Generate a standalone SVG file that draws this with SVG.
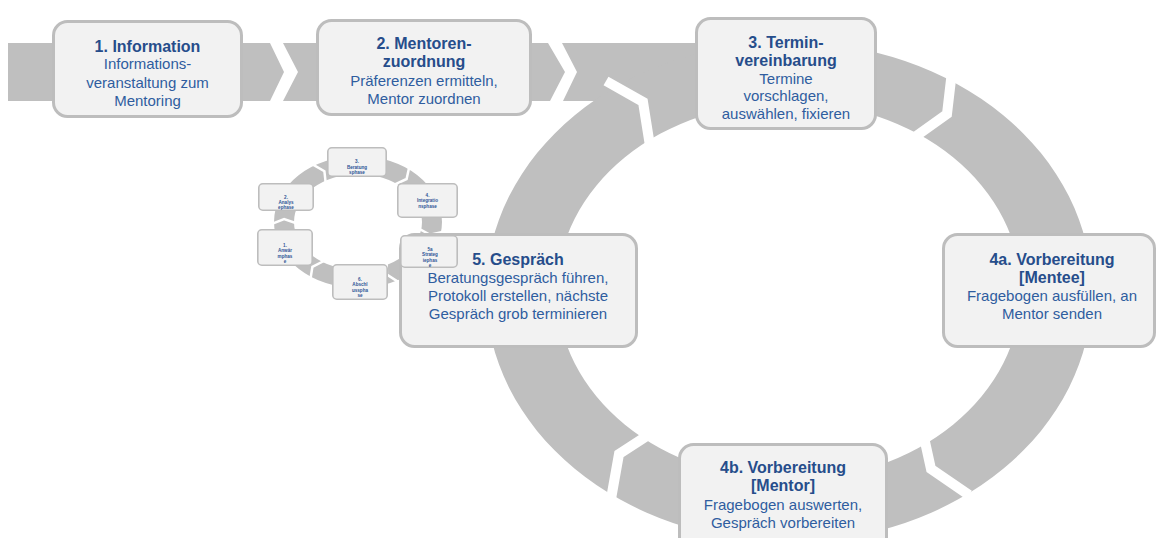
<svg xmlns="http://www.w3.org/2000/svg" width="1156" height="538" viewBox="0 0 1156 538">
<style>
.band{fill:#bfbfbf}
.gap{fill:none;stroke:#ffffff;stroke-width:10;stroke-linejoin:miter;stroke-linecap:butt}
.sgap{fill:none;stroke:#ffffff;stroke-width:2.5;stroke-linejoin:miter}
.box{fill:#f2f2f2;stroke:#bdbdbd;stroke-width:3}
.sbox{fill:#f2f2f2;stroke:#bdbdbd;stroke-width:1.6}
.t{font-family:"Liberation Sans",Arial,sans-serif;font-size:16px;font-weight:bold;fill:#264d8b;text-anchor:middle}
.b{font-family:"Liberation Sans",Arial,sans-serif;font-size:15px;fill:#2f5d9f;text-anchor:middle}
.s{font-family:"Liberation Sans",Arial,sans-serif;font-size:4.6px;font-weight:bold;fill:#2e5596;text-anchor:middle}
</style>
<rect width="1156" height="538" fill="#ffffff"/>
<g id="connectors">
  <rect class="band" x="8" y="43" width="752" height="58"/>
  <polygon fill="#ffffff" points="270,43 283,43 298,72 283,101 270,101 284,72"/>
  <polygon fill="#ffffff" points="548,43 562,43 577,72 563,101 550,101 565,72"/>
  <path class="band" fill-rule="evenodd" d="M486,292 A303,250 0 1 0 1092,292 A303,250 0 1 0 486,292 Z M557,291 A232,189 0 1 0 1021,291 A232,189 0 1 0 557,291 Z"/>
  <polyline class="gap" points="606,81 643,102 650,146"/>
  <polyline class="gap" points="952,71 947,114 912,139"/>
  <polyline class="gap" points="922,428 931,469 969,495"/>
  <polyline class="gap" points="611,499 619,454 656,430"/>
  <path class="band" fill-rule="evenodd" d="M274,222 A84,66 0 1 0 442,222 A84,66 0 1 0 274,222 Z M294,222 A64,48 0 1 0 422,222 A64,48 0 1 0 294,222 Z"/>
  <polyline class="sgap" points="308.6,162.2 324.4,171.2 325.9,184.9"/>
  <polyline class="sgap" points="410,163.6 406.6,179 391.8,185.8"/>
  <polyline class="sgap" points="448,230.7 430.1,234.8 416.5,227.4"/>
  <polyline class="sgap" points="402,284.4 386.9,274.5 386.6,260.7"/>
  <polyline class="sgap" points="309.9,282.5 312.4,266.9 326.8,259.5"/>
  <polyline class="sgap" points="267.4,225.7 284.1,219 299.2,224.3"/>
</g>
<g id="node1">
  <rect class="box" x="53.5" y="21.5" width="188" height="95" rx="14"/>
  <text class="t" x="147.5" y="52">1. Information</text>
  <text class="b" x="147.5" y="69">Informations-</text>
  <text class="b" x="147.5" y="87.5">veranstaltung zum</text>
  <text class="b" x="147.5" y="106">Mentoring</text>
</g>
<g id="node2">
  <rect class="box" x="317.5" y="20.5" width="213" height="94" rx="14"/>
  <text class="t" x="424" y="49">2. Mentoren-</text>
  <text class="t" x="424" y="67">zuordnung</text>
  <text class="b" x="424" y="86">Präferenzen ermitteln,</text>
  <text class="b" x="424" y="103.5">Mentor zuordnen</text>
</g>
<g id="node3">
  <rect class="box" x="696.5" y="18.5" width="179" height="110" rx="14"/>
  <text class="t" x="786" y="48">3. Termin-</text>
  <text class="t" x="786" y="66">vereinbarung</text>
  <text class="b" x="786" y="83.5">Termine</text>
  <text class="b" x="786" y="101">vorschlagen,</text>
  <text class="b" x="786" y="119">auswählen, fixieren</text>
</g>
<g id="node4a">
  <rect class="box" x="943.5" y="234.5" width="211" height="112" rx="14"/>
  <text class="t" x="1052" y="265">4a. Vorbereitung</text>
  <text class="t" x="1052" y="283">[Mentee]</text>
  <text class="b" x="1052" y="301">Fragebogen ausfüllen, an</text>
  <text class="b" x="1052" y="319">Mentor senden</text>
</g>
<g id="node4b">
  <rect class="box" x="679.5" y="444.5" width="207" height="110" rx="14"/>
  <text class="t" x="783" y="473">4b. Vorbereitung</text>
  <text class="t" x="783" y="491">[Mentor]</text>
  <text class="b" x="783" y="510">Fragebogen auswerten,</text>
  <text class="b" x="783" y="528">Gespräch vorbereiten</text>
</g>
<g id="node5">
  <rect class="box" x="400.5" y="234.5" width="236" height="112" rx="14"/>
  <text class="t" x="518" y="265">5. Gespräch</text>
  <text class="b" x="518" y="283">Beratungsgespräch führen,</text>
  <text class="b" x="518" y="301">Protokoll erstellen, nächste</text>
  <text class="b" x="518" y="319">Gespräch grob terminieren</text>
</g>
<g id="sub3">
  <rect class="sbox" x="327.8" y="147.8" width="58.4" height="28.4" rx="4"/>
  <text class="s" x="357" y="163.3">3.</text>
  <text class="s" x="357" y="168.5">Beratung</text>
  <text class="s" x="357" y="174">sphase</text>
</g>
<g id="sub2">
  <rect class="sbox" x="258.8" y="183.8" width="54.4" height="26.4" rx="4"/>
  <text class="s" x="286" y="198.6">2.</text>
  <text class="s" x="286" y="203.8">Analys</text>
  <text class="s" x="286" y="209.2">ephase</text>
</g>
<g id="sub4">
  <rect class="sbox" x="397.8" y="183.8" width="59.4" height="33.4" rx="4"/>
  <text class="s" x="427.5" y="196.5">4.</text>
  <text class="s" x="427.5" y="202.3">Integratio</text>
  <text class="s" x="427.5" y="208">nsphase</text>
</g>
<g id="sub1">
  <rect class="sbox" x="257.8" y="229.8" width="54.4" height="35.4" rx="4"/>
  <text class="s" x="285" y="246.5">1.</text>
  <text class="s" x="285" y="252">Anwär</text>
  <text class="s" x="285" y="257.5">mphas</text>
  <text class="s" x="285" y="263">e</text>
</g>
<g id="sub6">
  <rect class="sbox" x="332.8" y="264.8" width="54.4" height="34.4" rx="4"/>
  <text class="s" x="360" y="281">6.</text>
  <text class="s" x="360" y="286.3">Abschl</text>
  <text class="s" x="360" y="291.6">usspha</text>
  <text class="s" x="360" y="297">se</text>
</g>
<g id="sub5a">
  <rect class="sbox" x="400.8" y="235.8" width="56.4" height="31.4" rx="4"/>
  <text class="s" x="430" y="250.5">5a</text>
  <text class="s" x="430" y="256">Strateg</text>
  <text class="s" x="430" y="261.5">iephas</text>
  <text class="s" x="430" y="267">e</text>
</g>
</svg>
